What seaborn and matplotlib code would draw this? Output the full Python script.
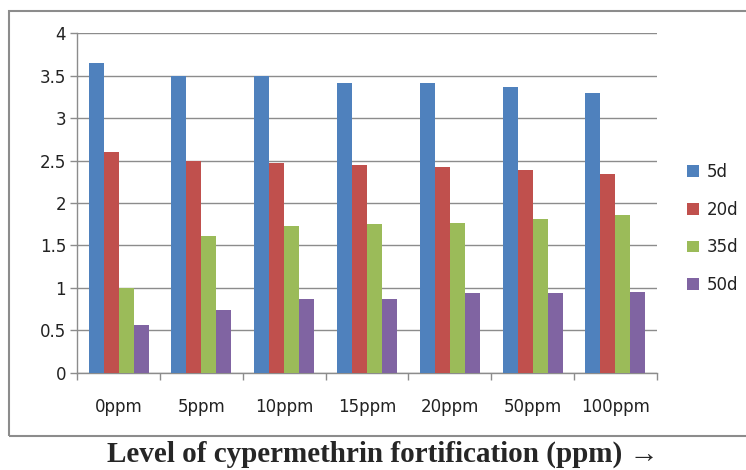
import matplotlib
matplotlib.use("Agg")
import matplotlib.pyplot as plt
from matplotlib.patches import Rectangle, Patch
import seaborn as sns
import pandas as pd

categories = ["0ppm", "5ppm", "10ppm", "15ppm", "20ppm", "50ppm", "100ppm"]
series_names = ["5d", "20d", "35d", "50d"]
d5 = [3.65, 3.50, 3.50, 3.41, 3.41, 3.37, 3.30]
d20 = [2.60, 2.50, 2.47, 2.45, 2.42, 2.39, 2.34]
d35 = [1.00, 1.61, 1.73, 1.75, 1.76, 1.81, 1.86]
d50 = [0.56, 0.74, 0.87, 0.87, 0.94, 0.945, 0.955]
colors = ["#4F81BD", "#C0504D", "#9BBB59", "#8064A2"]
xlabel = "Level of cypermethrin fortification (ppm) \u2192"

rows = []
for name, vals in zip(series_names, [d5, d20, d35, d50]):
    for c, v in zip(categories, vals):
        rows.append({"cat": c, "series": name, "value": v})
df = pd.DataFrame(rows)

sns.set_style("white")
plt.rcParams["font.family"] = ["DejaVu Sans"]

fig = plt.figure(figsize=(7.46, 4.70), dpi=100)
ax = fig.add_axes([77.3 / 746, 1 - 372.7 / 470, (656.7 - 77.3) / 746, (372.7 - 33.3) / 470])

sns.barplot(data=df, x="cat", y="value", hue="series", order=categories,
            hue_order=series_names, palette=colors, width=0.725, gap=0,
            saturation=1, errorbar=None, ax=ax, legend=False, zorder=3)
for p in ax.patches:
    p.set_edgecolor("none")

ax.set_ylim(0, 4)
ax.set_xlim(-0.5, len(categories) - 0.5)
ax.set_yticks([0, 0.5, 1, 1.5, 2, 2.5, 3, 3.5, 4])
ax.set_yticklabels(["0", "0.5", "1", "1.5", "2", "2.5", "3", "3.5", "4"])
ax.yaxis.grid(True, color="#8c8c8c", linewidth=1.0, zorder=0)
ax.set_axisbelow(True)
ax.set_xlabel("")
ax.set_ylabel("")

for s in ["top", "right"]:
    ax.spines[s].set_visible(False)
for s in ["left", "bottom"]:
    ax.spines[s].set_color("#8c8c8c")
    ax.spines[s].set_linewidth(1.0)

ax.tick_params(axis="y", which="major", direction="out", length=5, width=1,
               color="#8c8c8c", labelsize=12, labelcolor="#222222", pad=3, left=True)
ax.set_xticks(range(len(categories)))
ax.set_xticklabels(categories)
ax.set_xticks([i - 0.5 for i in range(len(categories) + 1)], minor=True)
ax.tick_params(axis="x", which="major", length=0, labelsize=12, labelcolor="#222222", pad=18)
ax.tick_params(axis="x", which="minor", direction="out", length=5, width=1, color="#8c8c8c", bottom=True)

handles = [Patch(facecolor=c, edgecolor="none", label=n) for c, n in zip(colors, series_names)]
leg = fig.legend(handles=handles, loc="upper left", bbox_to_anchor=(687 / 746, 1 - 163 / 470),
                 frameon=False, fontsize=12, handlelength=0.7, handleheight=0.7,
                 handletextpad=0.5, labelspacing=1.18, borderaxespad=0, borderpad=0)
for t in leg.get_texts():
    t.set_color("#222222")

# outer chart frame
fig.patches.append(Rectangle((8.5 / 746, 1 - 435.7 / 470), 1.0, (435.7 - 11) / 470,
                             transform=fig.transFigure, fill=False,
                             edgecolor="#8c8c8c", linewidth=1.5))

fig.text(383 / 746, 1 - 454 / 470, xlabel, ha="center", va="center",
         fontsize=21, fontweight="bold", family=["Liberation Serif", "DejaVu Serif"])

fig.savefig("out.png", dpi=100)
